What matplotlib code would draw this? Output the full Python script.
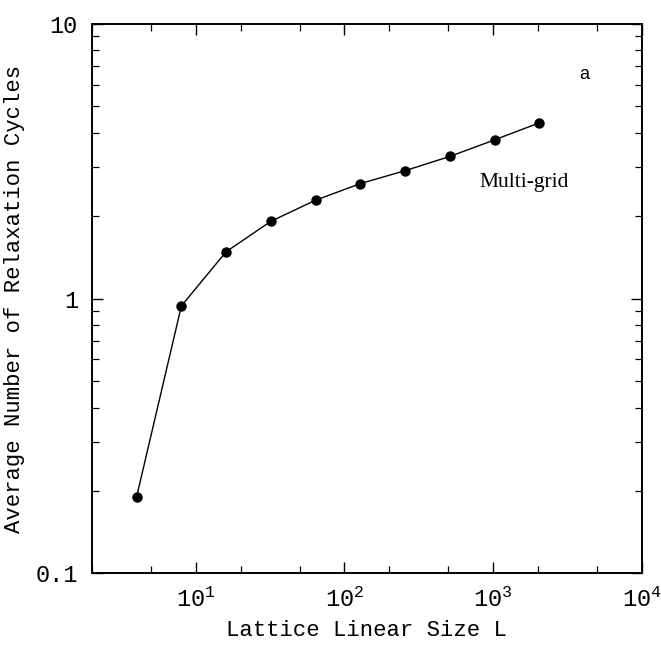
import matplotlib
matplotlib.use("Agg")
import matplotlib.pyplot as plt
from matplotlib.ticker import LogLocator, FixedLocator, NullFormatter, FixedFormatter

# lattice size and measured cycles
sizes = [4, 8, 16, 32, 64, 128, 256, 512, 1024, 2048]
cycles = [0.19, 0.94, 1.48, 1.91, 2.28, 2.62, 2.92, 3.29, 3.78, 4.36]

xticks = [10, 100, 1000, 10000]
xticklabels = ['$10^1$', '$10^2$', '$10^3$', '$10^4$']
yticks = [0.1, 1, 10]
yticklabels = ['0.1', '1', '10']

mono = 'Liberation Mono'
plt.rcParams['mathtext.fontset'] = 'custom'
plt.rcParams['mathtext.rm'] = mono
plt.rcParams['mathtext.it'] = mono

fig = plt.figure(figsize=(6.61, 6.59), dpi=100)
ax = fig.add_axes([0.139, 0.130, 0.832, 0.834])

ax.plot(sizes, cycles, color='black', lw=1.0, marker='o', ms=6.5,
        mfc='black', mec='black')

ax.set_xscale('log')
ax.set_yscale('log')
ax.set_xlim(2, 1e4)
ax.set_ylim(0.1, 10)

ax.xaxis.set_major_locator(FixedLocator(xticks))
ax.xaxis.set_major_formatter(FixedFormatter(xticklabels))
ax.xaxis.set_minor_locator(LogLocator(base=10, subs=(2.0, 5.0)))
ax.xaxis.set_minor_formatter(NullFormatter())
ax.yaxis.set_major_locator(FixedLocator(yticks))
ax.yaxis.set_major_formatter(FixedFormatter(yticklabels))
ax.yaxis.set_minor_locator(LogLocator(base=10, subs=range(2, 10)))
ax.yaxis.set_minor_formatter(NullFormatter())

ax.tick_params(which='both', direction='in', top=True, right=True, color='black')
ax.tick_params(which='major', length=8, width=1.0, pad=10)
ax.tick_params(which='minor', length=5, width=0.9)
for lab in ax.get_xticklabels() + ax.get_yticklabels():
    lab.set_family(mono)
    lab.set_fontsize(17)

for s in ax.spines.values():
    s.set_linewidth(1.4)

ax.set_xlabel('Lattice Linear Size L', family=mono, fontsize=16, labelpad=6)
ax.set_ylabel('Average Number of Relaxation Cycles', family=mono, fontsize=16, labelpad=8)

ax.text(0.895, 0.907, 'a', transform=ax.transAxes, family='Liberation Sans',
        fontsize=13, ha='center', va='center')
ax.text(0.786, 0.712, 'Multi-grid', transform=ax.transAxes, family='Liberation Serif',
        fontsize=15.5, ha='center', va='center')

fig.savefig('out.png', dpi=100)
